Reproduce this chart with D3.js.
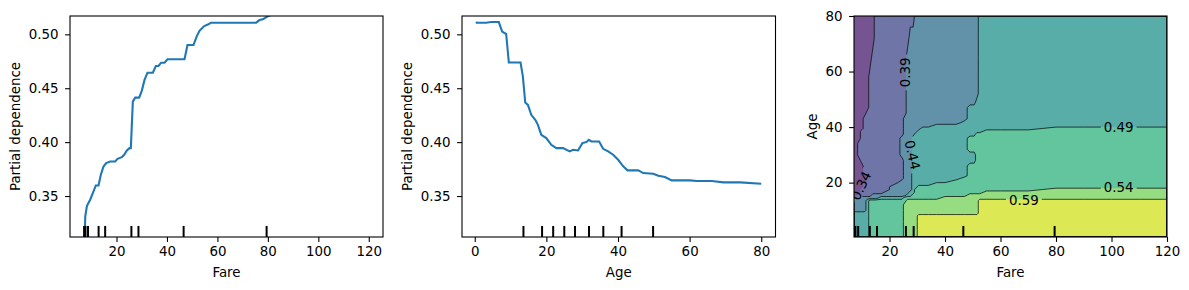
<!DOCTYPE html>
<html>
<head>
<meta charset="utf-8">
<script src="https://cdn.jsdelivr.net/npm/d3@7"></script>
<style>
  body { margin: 0; background: #fff; }
  text { font-family: "DejaVu Sans", sans-serif; fill: #000; }
</style>
</head>
<body>
<svg id="chart" width="1189" height="290"></svg>
<script>
// partial dependence on Fare
var fareX = [7.2, 7.6, 8.24, 8.5, 9.56, 10.88, 11.8, 12.86, 13.79, 14.84, 15.9, 17.49, 19.47, 20.4, 22.11,
    23.04, 24.1, 25.15, 25.68, 26.47, 27.4, 28.98, 30.04, 31.1, 32.29, 34.4, 35.59, 36.64, 37.7, 39.02,
    40.21, 46.95, 48.14, 50.51, 51.84, 52.9, 54.75, 56.46, 57.39, 75.35, 76.67, 78, 79.58, 85, 120];
var fareY = [0.29, 0.331, 0.3404, 0.3419, 0.3466, 0.3543, 0.3598, 0.3598, 0.3697, 0.3774, 0.3806, 0.382, 0.382, 0.3845, 0.3861,
    0.3882, 0.3922, 0.3944, 0.3944, 0.4376, 0.4413, 0.4413, 0.4478, 0.4577, 0.4644, 0.4644, 0.4706, 0.4706, 0.4737, 0.4737,
    0.4769, 0.4769, 0.4901, 0.4901, 0.4984, 0.5033, 0.5077, 0.5093, 0.5108, 0.5108, 0.5132, 0.5139, 0.5163, 0.522, 0.53];

// partial dependence on Age
var ageX = [0.42, 0.56, 3.17, 4.57, 6.72, 7.65, 8.77, 9.52, 12.79, 13.44, 14.1, 14.85, 15.78, 16.9, 17.64,
    18.58, 19.98, 21.38, 22.78, 24.64, 26.51, 27.44, 28.84, 30.05, 31.17, 31.83, 32.57, 34.73, 35.85, 37.25,
    38.65, 40.05, 41.45, 42.66, 45.65, 47.05, 49.85, 51.25, 53.12, 54.98, 60.12, 61.98, 66.19, 69.45, 74.12, 80];
var ageY = [0.5117, 0.5108, 0.5108, 0.5114, 0.5114, 0.5025, 0.5003, 0.4738, 0.4738, 0.4608, 0.4367, 0.4346, 0.4253, 0.4207, 0.4160,
    0.4068, 0.4037, 0.3975, 0.3944, 0.3944, 0.3914, 0.3929, 0.3923, 0.3991, 0.4, 0.4022, 0.4006, 0.4006, 0.3938, 0.3914,
    0.3883, 0.3836, 0.3775, 0.3738, 0.3738, 0.3713, 0.3707, 0.3688, 0.3676, 0.3645, 0.3645, 0.3639, 0.3639, 0.3627, 0.3627, 0.3614];

// deciles (rug marks)
var fareDeciles = [7.15, 7.7, 8.7, 12.9, 15.5, 25.9, 28.7, 46.6, 79.5];
var ageDeciles = [13.6, 18.8, 21.9, 25, 28, 31.9, 35.9, 41, 49.8];

// 2D partial dependence grid (Fare x Age)
var fareGrid = [7.2, 8, 9, 10, 11, 12, 13, 14, 15, 17, 19, 21, 23, 24.5, 25.5, 26.5, 27.5, 28.5, 29.5, 30.5,
    32, 34, 37, 40, 44, 47, 49, 50.5, 51.5, 52.5, 55, 60, 70, 80, 90, 100, 110, 120];
var ageGrid = [80, 72, 65, 58, 52, 49, 47, 45, 43, 41.5, 40.5, 39.5, 38.5, 37.5, 36, 34, 32, 30, 28, 26,
    24, 22.5, 21.5, 20.5, 19.5, 18.5, 17.5, 16.5, 15.5, 14.5, 13.5, 12, 10, 9, 8, 6, 3, 0.42];
var levels = [0.29, 0.34, 0.39, 0.44, 0.49, 0.54, 0.59, 0.64];
var bandValues = [0.315, 0.365, 0.415, 0.465, 0.515, 0.565, 0.615];
// one row per age, runs of [band, number of fare columns]
var zRuns = [
    [[0,8],[1,10],[2,11],[3,9]],
    [[0,8],[1,8],[2,13],[3,9]],
    [[0,7],[1,8],[2,14],[3,9]],
    [[0,6],[1,9],[2,14],[3,9]],
    [[0,6],[1,9],[2,14],[3,9]],
    [[0,6],[1,9],[2,13],[3,10]],
    [[0,6],[1,9],[2,11],[3,12]],
    [[0,5],[1,10],[2,11],[3,12]],
    [[0,4],[1,10],[2,12],[3,12]],
    [[0,4],[1,10],[2,11],[3,13]],
    [[0,4],[1,10],[2,8],[3,16]],
    [[0,4],[1,10],[2,6],[3,13],[4,5]],
    [[0,3],[1,11],[2,5],[3,11],[4,8]],
    [[0,3],[1,11],[2,4],[3,10],[4,10]],
    [[0,3],[1,10],[2,4],[3,9],[4,12]],
    [[0,2],[1,11],[2,4],[3,9],[4,12]],
    [[0,2],[1,11],[2,4],[3,9],[4,12]],
    [[0,2],[1,11],[2,4],[3,11],[4,10]],
    [[0,3],[1,11],[2,3],[3,11],[4,10]],
    [[0,4],[1,10],[2,3],[3,9],[4,12]],
    [[0,4],[1,10],[2,3],[3,9],[4,12]],
    [[0,5],[1,9],[2,3],[3,9],[4,12]],
    [[0,5],[1,9],[2,3],[3,8],[4,13]],
    [[0,5],[1,8],[2,4],[3,7],[4,14]],
    [[0,4],[1,8],[2,5],[3,5],[4,16]],
    [[0,4],[1,7],[2,6],[3,2],[4,19]],
    [[0,3],[1,8],[2,6],[3,1],[4,15],[5,5]],
    [[0,3],[1,7],[2,6],[3,2],[4,12],[5,8]],
    [[0,2],[1,5],[2,8],[3,2],[4,9],[5,12]],
    [[2,9],[3,5],[4,9],[5,15]],
    [[2,5],[3,1],[4,9],[5,14],[6,9]],
    [[2,5],[3,1],[4,8],[5,15],[6,9]],
    [[2,5],[3,1],[4,8],[5,15],[6,9]],
    [[3,6],[4,8],[5,15],[6,9]],
    [[3,6],[4,8],[5,5],[6,19]],
    [[3,6],[4,8],[5,5],[6,19]],
    [[3,6],[4,8],[5,5],[6,19]],
    [[3,6],[4,8],[5,5],[6,19]]
];
var contourLabels = ["0.34", "0.39", "0.44", "0.49", "0.54", "0.59"];
var labelFare = [9.7, 25.7, 28.3, 102.6, 102.6, 68.4];
var labelAge = [18.9, 59.7, 30.0, 39.9, 18.3, 13.8];
var labelAngle = [-65, -90, 77, 0, 0, 0];

var fareTicks = [20, 40, 60, 80, 100, 120];
var ageTicks = [0, 20, 40, 60, 80];
var age2dTicks = [20, 40, 60, 80];
var pdTicks = [0.35, 0.40, 0.45, 0.50];

var FS = 13.4, TOP = 16, H = 221;
var svg = d3.select("#chart");
var defs = svg.append("defs");

function pad(ext) {
    var m = (ext[1] - ext[0]) * 0.05;
    return [ext[0] - m, ext[1] + m];
}

function panel(id, left, w) {
    defs.append("clipPath").attr("id", "clip" + id)
        .append("rect").attr("width", w).attr("height", H);
    var g = svg.append("g").attr("transform", "translate(" + left + "," + TOP + ")");
    return g;
}

function styleAxis(ax) {
    ax.attr("font-size", FS).attr("font-family", null);
    ax.select(".domain").remove();
    ax.selectAll(".tick line").attr("stroke", "#000").attr("stroke-width", 1.1);
}

function axes(g, w, x, y, xt, yt, yfmt, xlabel, ylabel, ylabelX) {
    var ax = g.append("g").attr("transform", "translate(0," + H + ")")
        .call(d3.axisBottom(x).tickValues(xt).tickSize(4.9).tickPadding(4.9).tickFormat(d3.format("d")));
    styleAxis(ax);
    var ay = g.append("g")
        .call(d3.axisLeft(y).tickValues(yt).tickSize(4.9).tickPadding(6.5).tickFormat(d3.format(yfmt)));
    styleAxis(ay);
    g.append("rect").attr("width", w).attr("height", H)
        .attr("fill", "none").attr("stroke", "#000").attr("stroke-width", 1.1);
    g.append("text").attr("x", w / 2).attr("y", H + 40.3)
        .attr("text-anchor", "middle").attr("font-size", FS).text(xlabel);
    g.append("text").attr("transform", "translate(" + ylabelX + "," + (H / 2) + ") rotate(-90)")
        .attr("text-anchor", "middle").attr("font-size", FS).text(ylabel);
}

function rug(g, id, x, values) {
    g.append("g").attr("clip-path", "url(#clip" + id + ")")
        .selectAll("line").data(values).enter().append("line")
        .attr("x1", function (d) { return x(d); }).attr("x2", function (d) { return x(d); })
        .attr("y1", H).attr("y2", H * 0.95)
        .attr("stroke", "#000").attr("stroke-width", 2);
}

var yPd = d3.scaleLinear().domain([0.312, 0.517]).range([H, 0]);

// ---- panel 1: Fare
var w1 = 313;
var g1 = panel(1, 70, w1);
var x1 = d3.scaleLinear().domain(pad(d3.extent(fareGrid))).range([0, w1]);
g1.append("path").attr("clip-path", "url(#clip1)")
    .datum(d3.zip(fareX, fareY))
    .attr("fill", "none").attr("stroke", "#1f77b4").attr("stroke-width", 2.1)
    .attr("d", d3.line().x(function (d) { return x1(d[0]); }).y(function (d) { return yPd(d[1]); }));
rug(g1, 1, x1, fareDeciles);
axes(g1, w1, x1, yPd, fareTicks, pdTicks, ".2f", "Fare", "Partial dependence", -50.4);

// ---- panel 2: Age
var w2 = 313.5;
var g2 = panel(2, 462, w2);
var x2 = d3.scaleLinear().domain(pad(d3.extent(ageGrid))).range([0, w2]);
g2.append("path").attr("clip-path", "url(#clip2)")
    .datum(d3.zip(ageX, ageY))
    .attr("fill", "none").attr("stroke", "#1f77b4").attr("stroke-width", 2.1)
    .attr("d", d3.line().x(function (d) { return x2(d[0]); }).y(function (d) { return yPd(d[1]); }));
rug(g2, 2, x2, ageDeciles);
axes(g2, w2, x2, yPd, ageTicks, pdTicks, ".2f", "Age", "Partial dependence", -50);

// ---- panel 3: Fare x Age contour
var w3 = 313;
var g3 = panel(3, 854, w3);
var x3 = d3.scaleLinear().domain(d3.extent(fareGrid)).range([0, w3]);
var y3 = d3.scaleLinear().domain(d3.extent(ageGrid)).range([H, 0]);

var nx = fareGrid.length, ny = ageGrid.length;
var zValues = [];
zRuns.forEach(function (row) {
    var n = 0;
    row.forEach(function (r) {
        for (var k = 0; k < r[1] && n < nx; k++, n++) zValues.push(bandValues[r[0]]);
    });
    while (n < nx) { zValues.push(zValues[zValues.length - 1]); n++; }
});

function gridTo(arr, g) {
    var t = Math.max(0, Math.min(arr.length - 1, g - 0.5));
    var i = Math.min(Math.floor(t), arr.length - 2);
    return arr[i] + (t - i) * (arr[i + 1] - arr[i]);
}
var proj = d3.geoTransform({
    point: function (gx, gy) {
        this.stream.point(x3(gridTo(fareGrid, gx)), y3(gridTo(ageGrid, gy)));
    }
});
var cpath = d3.geoPath(proj);
var bands = d3.contours().size([nx, ny]).thresholds(levels)(zValues);

var bandColor = levels.slice(0, -1).map(function (l, i) {
    return d3.interpolateRgb("#ffffff", d3.interpolateViridis((i + 0.5) / (levels.length - 1)))(0.75);
});

var c3 = g3.append("g").attr("clip-path", "url(#clip3)");
c3.selectAll("path.band").data(bands.slice(0, -1)).enter().append("path")
    .attr("class", "band")
    .attr("d", cpath)
    .attr("fill", function (d, i) { return bandColor[i]; });

// labels first, so the lines can be cut under them
var lblG = c3.append("g");
var mask = defs.append("mask").attr("id", "lblmask")
    .attr("maskUnits", "userSpaceOnUse")
    .attr("x", -5).attr("y", -5).attr("width", w3 + 10).attr("height", H + 10);
mask.append("rect").attr("x", -5).attr("y", -5).attr("width", w3 + 10).attr("height", H + 10).attr("fill", "#fff");
contourLabels.forEach(function (t, i) {
    var tr = "translate(" + x3(labelFare[i]) + "," + y3(labelAge[i]) + ") rotate(" + labelAngle[i] + ")";
    var txt = lblG.append("text").attr("transform", tr)
        .attr("text-anchor", "middle").attr("dy", "0.36em")
        .attr("font-size", FS).text(t);
    var tw = txt.node().getComputedTextLength() + 6;
    mask.append("rect").attr("transform", tr)
        .attr("x", -tw / 2).attr("y", -6).attr("width", tw).attr("height", 12).attr("fill", "#000");
});

c3.append("g").attr("mask", "url(#lblmask)")
    .selectAll("path").data(bands.slice(1, -1)).enter().append("path")
    .attr("d", cpath)
    .attr("fill", "none").attr("stroke", "#000").attr("stroke-width", 0.7);

rug(g3, 3, x3, fareDeciles);
axes(g3, w3, x3, y3, fareTicks, age2dTicks, "d", "Fare", "Age", -37.5);
</script>
</body>
</html>
